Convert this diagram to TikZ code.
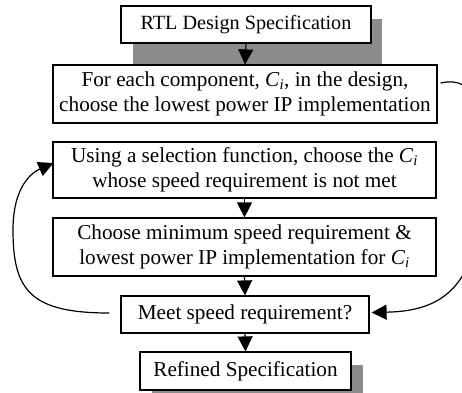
\documentclass[tikz,border=0pt]{standalone}
\usepackage{fontspec}
\setmainfont{Liberation Serif}
\usetikzlibrary{arrows.meta}
\newcommand{\compi}{\textit{C}\textsubscript{\textit{i}}}
\tikzset{
  stepbox/.style={draw, fill=white, line width=1.2pt, align=center, inner sep=0pt,
    font=\fontsize{21.2}{25}\selectfont},
  flow/.style={line width=1.2pt, -{Triangle[length=15pt, width=15pt]}},
  shade/.style={fill=black!45}
}

\begin{document}
\begin{tikzpicture}[x=1pt, y=1pt]
  \clip (0,0) rectangle (462,-392);
  \fill[white] (0,0) rectangle (462,-392);
  \fill[shade] (133,-19) rectangle (382,-65);
  \fill[shade] (152,-365) rectangle (363,-400);
  \node[stepbox, font=\fontsize{20.2}{25}\selectfont, minimum width=250pt, minimum height=37pt] (rtl) at (246,-24.5) {RTL Design Specification};
  \node[stepbox, minimum width=384pt, minimum height=58pt] (lowpower) at (245,-94) {For each component, \compi, in the design,\\ choose the lowest power IP implementation};
  \node[stepbox, minimum width=383pt, minimum height=56pt] (select) at (244.5,-170) {Using a selection function, choose the \compi\\ whose speed requirement is not met};
  \node[stepbox, minimum width=383pt, minimum height=58pt] (minspeed) at (244.5,-247) {Choose minimum speed requirement \&\\ lowest power IP implementation for \compi};
  \node[stepbox, minimum width=248pt, minimum height=37pt] (meet) at (245,-314.5) {Meet speed requirement?};
  \node[stepbox, minimum width=211pt, minimum height=38pt] (refined) at (245.5,-371) {Refined Specification};
  \draw[flow] (rtl.south) -- (lowpower.north);
  \draw[flow] (select.south) -- (minspeed.north);
  \draw[flow] (minspeed.south) -- (meet.north);
  \draw[flow] (meet.south) -- (refined.north);
  \draw[flow] ([xshift=-11pt, yshift=1.5pt]meet.west) .. controls (30,-313) and (13,-290) .. (13,-230)
    .. controls (13,-185) and (33,-172) .. ([xshift=1pt, yshift=7pt]select.west);
  \draw[flow] ([xshift=3pt, yshift=11pt]lowpower.east) .. controls (478,-75) and (482,-110) .. (482,-180)
    .. controls (482,-290) and (440,-311) .. ([xshift=2pt, yshift=2pt]meet.east);
\end{tikzpicture}
\end{document}
